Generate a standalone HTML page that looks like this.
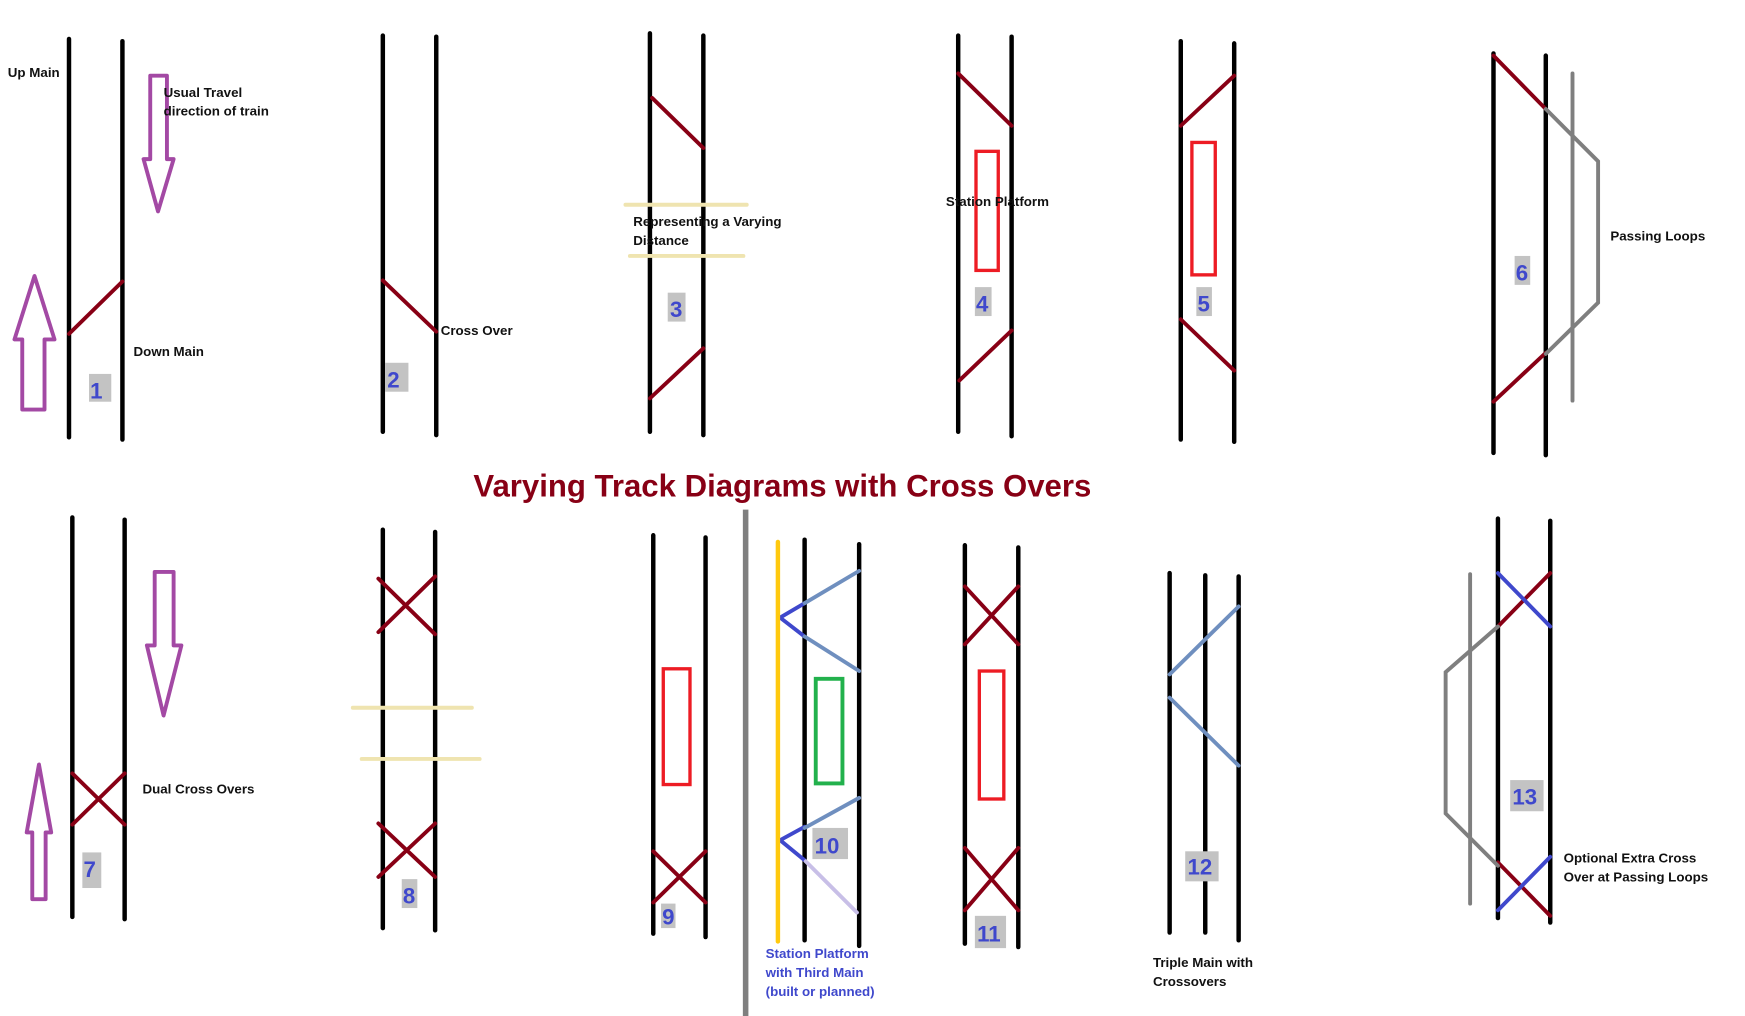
<!DOCTYPE html>
<html><head><meta charset="utf-8"><style>
html,body{margin:0;padding:0;background:#fff;}
svg{display:block;}
text{font-family:"Liberation Sans",sans-serif;font-weight:bold;}
.l{font-size:12px;fill:#111;}
.n{font-size:20px;fill:#3f48cc;}
.b{font-size:12px;fill:#3f48cc;}
</style></head><body>
<svg width="1745" height="1016" viewBox="0 0 1568 913" preserveAspectRatio="none" xmlns="http://www.w3.org/2000/svg">
<g stroke-linecap="round" fill="none">
<g stroke="#000" stroke-width="4">
<line x1="62" y1="35" x2="62" y2="393"/><line x1="110" y1="37" x2="110" y2="395"/>
<line x1="344" y1="32" x2="344" y2="388"/><line x1="392" y1="33" x2="392" y2="391"/>
<line x1="584" y1="30" x2="584" y2="388"/><line x1="632" y1="32" x2="632" y2="391"/>
<line x1="861" y1="32" x2="861" y2="388"/><line x1="909" y1="33" x2="909" y2="392"/>
<line x1="1061" y1="37" x2="1061" y2="395"/><line x1="1109" y1="39" x2="1109" y2="397"/>
<line x1="1342" y1="48" x2="1342" y2="407"/><line x1="1389" y1="50" x2="1389" y2="409"/>
<line x1="65" y1="465" x2="65" y2="824"/><line x1="112" y1="467" x2="112" y2="826"/>
<line x1="344" y1="476" x2="344" y2="834"/><line x1="391" y1="478" x2="391" y2="836"/>
<line x1="587" y1="481" x2="587" y2="839"/><line x1="634" y1="483" x2="634" y2="842"/>
<line x1="723" y1="485" x2="723" y2="845"/><line x1="772" y1="489" x2="772" y2="850"/>
<line x1="867" y1="490" x2="867" y2="848"/><line x1="915" y1="492" x2="915" y2="851"/>
<line x1="1051" y1="515" x2="1051" y2="838"/><line x1="1083" y1="517" x2="1083" y2="838"/>
<line x1="1113" y1="518" x2="1113" y2="845"/>
<line x1="1346" y1="466" x2="1346" y2="825"/><line x1="1393" y1="468" x2="1393" y2="829"/>
</g>
<g stroke="#880015" stroke-width="3.5">
<line x1="62" y1="300" x2="110" y2="253"/>
<line x1="344" y1="252" x2="392" y2="298"/>
<line x1="586" y1="88" x2="632" y2="133"/><line x1="584" y1="358" x2="632" y2="313"/>
<line x1="861" y1="66" x2="909" y2="113"/><line x1="862" y1="342" x2="909" y2="297"/>
<line x1="1061" y1="113" x2="1109" y2="68"/><line x1="1061" y1="287" x2="1109" y2="333"/>
<line x1="1342" y1="50" x2="1389" y2="98"/><line x1="1342" y1="361" x2="1389" y2="317"/>
<line x1="65" y1="695" x2="112" y2="741"/><line x1="65" y1="741" x2="112" y2="695"/>
<line x1="340" y1="520" x2="391" y2="570"/><line x1="340" y1="568" x2="391" y2="518"/>
<line x1="340" y1="740" x2="391" y2="788"/><line x1="340" y1="788" x2="391" y2="740"/>
<line x1="587" y1="765" x2="634" y2="811"/><line x1="587" y1="811" x2="634" y2="765"/>
<line x1="867" y1="527" x2="915" y2="579"/><line x1="867" y1="579" x2="915" y2="527"/>
<line x1="867" y1="762" x2="915" y2="818"/><line x1="867" y1="818" x2="915" y2="762"/>
<line x1="1346" y1="563" x2="1393" y2="515"/>
<line x1="1346" y1="775" x2="1393" y2="823"/>
</g>
<g stroke="#3f48cc" stroke-width="3.5">
<line x1="1346" y1="515" x2="1393" y2="563"/>
<line x1="1346" y1="818" x2="1393" y2="770"/>
<polyline points="723,542 701,555 723,572"/>
<polyline points="723,743 701,755 723,773"/>
</g>
<g stroke="#6f8fbf" stroke-width="3.5">
<line x1="723" y1="542" x2="772" y2="513"/><line x1="723" y1="572" x2="772" y2="603"/>
<line x1="723" y1="744" x2="772" y2="717"/>
<line x1="1113" y1="545" x2="1051" y2="606"/><line x1="1051" y1="627" x2="1113" y2="688"/>
</g>
<line x1="724" y1="774" x2="770" y2="820" stroke="#c8bfe7" stroke-width="3.5"/>
<g stroke="#7f7f7f" stroke-width="3.5">
<line x1="1413" y1="66" x2="1413" y2="360"/>
<polyline points="1389,98 1436,145 1436,272 1389,318"/>
<line x1="1321" y1="516" x2="1321" y2="812"/>
<polyline points="1346,563 1299,604 1299,731 1346,778"/>
</g>
<g stroke="#efe4b0" stroke-width="3.5">
<line x1="562" y1="184" x2="671" y2="184"/><line x1="566" y1="230" x2="668" y2="230"/>
<line x1="317" y1="636" x2="424" y2="636"/><line x1="325" y1="682" x2="431" y2="682"/>
</g>
<line x1="699" y1="487" x2="699" y2="846" stroke="#ffc90e" stroke-width="4"/>
<line x1="670" y1="458" x2="670" y2="913" stroke="#7f7f7f" stroke-width="5" stroke-linecap="butt"/>
<g stroke="#ed1c24" stroke-width="3">
<rect x="877" y="136" width="20" height="107"/>
<rect x="1071" y="128" width="21" height="119"/>
<rect x="596" y="601" width="24" height="104"/>
<rect x="880" y="603" width="22" height="115"/>
</g>
<rect x="733" y="610" width="24" height="94" stroke="#22b14c" stroke-width="3.5"/>
<g stroke="#a349a4" stroke-width="3.5" stroke-linejoin="round">
<polygon points="20,368 40,368 40,305 49,305 31,248 13,305 20,305"/>
<polygon points="135,68 150,68 150,143 156,143 142,190 129,143 135,143"/>
<polygon points="139,514 156,514 156,580 163,580 147,643 132,580 139,580"/>
<polygon points="29,808 41,808 41,748 46,748 35,687 24,748 29,748"/>
</g>
</g>
<g fill="#c3c3c3">
<rect x="80" y="336" width="20" height="25"/><rect x="346" y="326" width="21" height="26"/>
<rect x="600" y="263" width="16" height="26"/><rect x="876" y="258" width="15" height="26"/>
<rect x="1075" y="258" width="14" height="26"/><rect x="1361" y="230" width="14" height="26"/>
<rect x="74" y="766" width="17" height="32"/><rect x="361" y="790" width="14" height="26"/>
<rect x="594" y="812" width="13" height="22"/><rect x="730" y="744" width="32" height="28"/>
<rect x="876" y="823" width="28" height="29"/><rect x="1065" y="765" width="30" height="27"/>
<rect x="1357" y="701" width="30" height="28"/>
</g>
<text class="n" x="81" y="358">1</text><text class="n" x="348" y="348">2</text>
<text class="n" x="602" y="285">3</text><text class="n" x="877" y="280">4</text>
<text class="n" x="1076" y="280">5</text><text class="n" x="1362" y="252">6</text>
<text class="n" x="75" y="788">7</text><text class="n" x="362" y="812">8</text>
<text class="n" x="595" y="831">9</text><text class="n" x="732" y="767">10</text>
<text class="n" x="878" y="846">11</text><text class="n" x="1067" y="786">12</text>
<text class="n" x="1359" y="723">13</text>
<text class="l" x="7" y="69">Up Main</text>
<text class="l" x="147" y="87">Usual Travel</text><text class="l" x="147" y="104">direction of train</text>
<text class="l" x="120" y="320">Down Main</text>
<text class="l" x="396" y="301">Cross Over</text>
<text class="l" x="569" y="203">Representing a Varying</text><text class="l" x="569" y="220">Distance</text>
<text class="l" x="850" y="185">Station Platform</text>
<text class="l" x="1447" y="216">Passing Loops</text>
<text class="l" x="128" y="713">Dual Cross Overs</text>
<text class="b" x="688" y="861">Station Platform</text><text class="b" x="688" y="878">with Third Main</text><text class="b" x="688" y="895">(built or planned)</text>
<text class="l" x="1036" y="869">Triple Main with</text><text class="l" x="1036" y="886">Crossovers</text>
<text class="l" x="1405" y="775">Optional Extra Cross</text><text class="l" x="1405" y="792">Over at Passing Loops</text>
<text x="703" y="446" text-anchor="middle" style="font-size:28px;fill:#880015">Varying Track Diagrams with Cross Overs</text>
</svg>
</body></html>
